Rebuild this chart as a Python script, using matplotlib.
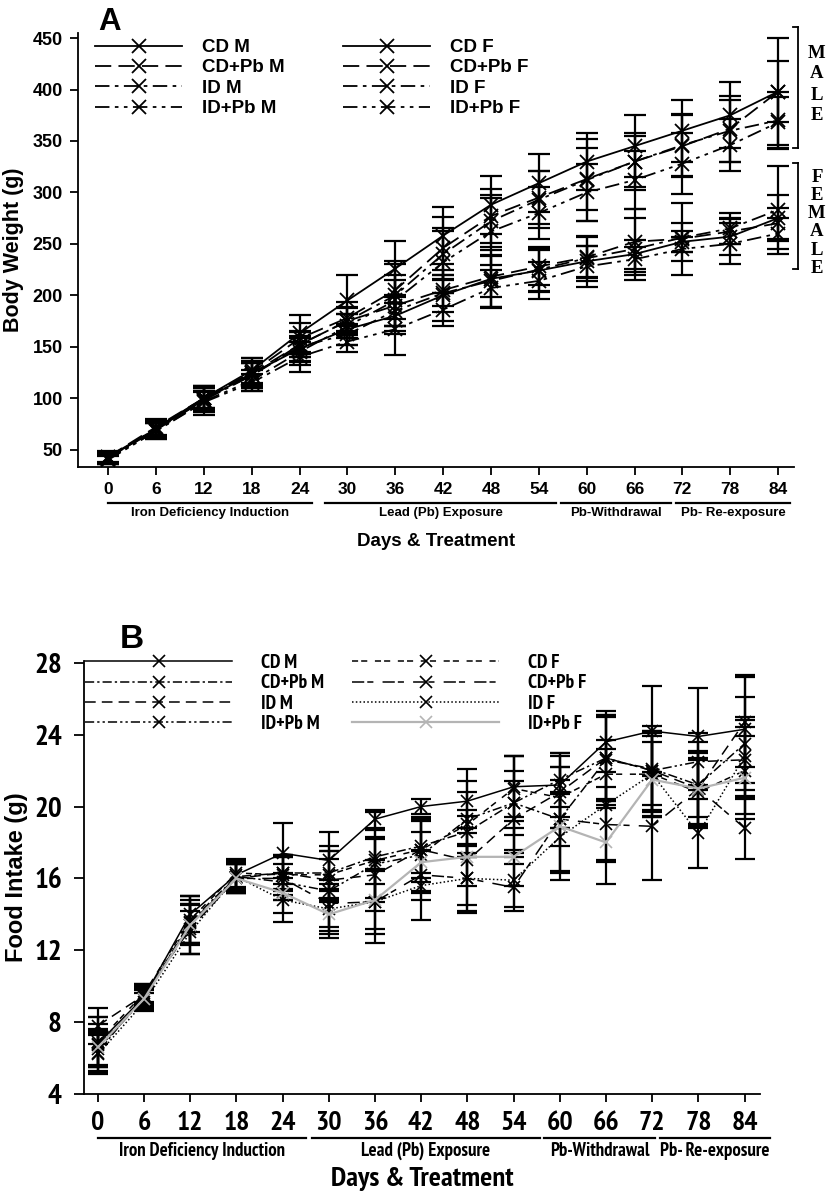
import matplotlib
matplotlib.use("Agg")
import matplotlib.pyplot as plt
from matplotlib.lines import Line2D
from matplotlib import font_manager as fm

days = [0, 6, 12, 18, 24, 30, 36, 42, 48, 54, 60, 66, 72, 78, 84]

# ---------------- Panel A : body weight (g) ----------------
a_labels = ["CD M", "CD+Pb M", "ID M", "ID+Pb M", "CD F", "CD+Pb F", "ID F", "ID+Pb F"]
bw_cd_m   = [43, 70, 100, 127, 163, 195, 226, 258, 288, 309, 330, 345, 360, 375, 398]
bw_cdpb_m = [42, 70, 100, 125, 158, 178, 205, 246, 277, 295, 313, 330, 345, 362, 398]
bw_id_m   = [42, 69, 98, 122, 152, 175, 200, 240, 272, 293, 312, 330, 346, 360, 370]
bw_idpb_m = [41, 68, 97, 117, 145, 170, 195, 232, 262, 280, 300, 312, 328, 346, 368]
bw_cd_f   = [42, 70, 98, 124, 148, 167, 180, 200, 216, 224, 233, 240, 252, 257, 275]
bw_cdpb_f = [43, 72, 100, 124, 152, 175, 190, 205, 218, 228, 237, 252, 255, 262, 270]
bw_id_f   = [41, 71, 100, 122, 150, 162, 185, 202, 214, 225, 236, 245, 256, 265, 283]
bw_idpb_f = [40, 68, 96, 115, 140, 155, 167, 186, 207, 214, 228, 235, 245, 250, 260]

sd_cd_m   = [6, 8, 10, 12, 18, 25, 27, 28, 28, 28, 28, 30, 30, 32, 52]
sd_cdpb_m = [5, 8, 12, 14, 15, 15, 28, 30, 26, 26, 30, 28, 30, 32, 30]
sd_id_m   = [5, 7, 14, 12, 12, 14, 30, 25, 25, 28, 40, 25, 30, 30, 28]
sd_idpb_m = [5, 8, 10, 10, 13, 12, 25, 30, 33, 25, 28, 28, 30, 25, 25]
sd_cd_f   = [5, 8, 12, 12, 12, 15, 18, 25, 28, 20, 15, 14, 10, 18, 22]
sd_cdpb_f = [5, 8, 10, 10, 12, 13, 25, 15, 20, 18, 20, 32, 35, 12, 15]
sd_id_f   = [5, 8, 12, 12, 15, 10, 15, 18, 25, 22, 22, 30, 14, 15, 43]
sd_idpb_f = [4, 8, 10, 8, 15, 10, 25, 16, 18, 18, 20, 12, 12, 20, 15]

# ---------------- Panel B : food intake (g) ----------------
b_labels = ["CD M", "CD+Pb M", "ID M", "ID+Pb M", "CD F", "CD+Pb F", "ID F", "ID+Pb F"]
fi_cd_m   = [6.8, 9.4, 14.0, 16.2, 17.4, 17.0, 19.3, 20.0, 20.3, 21.1, 21.2, 23.6, 24.2, 23.9, 24.3]
fi_cdpb_m = [6.5, 9.3, 13.6, 16.1, 16.3, 16.3, 17.2, 17.8, 18.6, 20.2, 19.3, 22.6, 22.1, 21.2, 23.5]
fi_id_m   = [7.8, 9.5, 13.2, 16.0, 16.3, 15.9, 16.2, 17.6, 17.0, 19.3, 20.8, 22.7, 22.0, 21.0, 24.7]
fi_idpb_m = [6.3, 9.5, 13.4, 16.1, 15.8, 15.3, 16.8, 17.3, 19.3, 20.2, 21.5, 22.7, 22.0, 22.5, 22.6]
fi_cd_f   = [6.9, 9.6, 13.7, 16.3, 16.2, 16.2, 17.0, 17.6, 19.0, 21.0, 20.5, 21.8, 21.8, 20.8, 22.0]
fi_cdpb_f = [6.7, 9.3, 13.5, 16.0, 16.0, 14.6, 14.7, 16.2, 16.0, 15.5, 19.3, 19.0, 18.9, 21.0, 18.8]
fi_id_f   = [6.2, 9.1, 13.0, 16.1, 14.8, 14.3, 14.7, 15.6, 16.0, 15.9, 18.3, 20.1, 21.8, 18.5, 22.8]
fi_idpb_f = [6.6, 9.3, 13.4, 16.0, 15.2, 14.0, 14.8, 16.9, 17.2, 17.2, 18.9, 18.0, 21.5, 21.0, 21.6]

fsd_cd_m   = [1.5, 0.6, 1.0, 0.8, 1.7, 1.6, 0.5, 0.4, 1.8, 1.7, 1.8, 1.7, 2.5, 2.7, 3.0]
fsd_cdpb_m = [1.0, 0.6, 1.2, 0.9, 1.0, 1.5, 2.5, 1.5, 1.2, 1.8, 1.5, 2.5, 2.0, 2.4, 2.6]
fsd_id_m   = [1.0, 0.5, 1.4, 0.8, 0.9, 1.2, 2.0, 1.8, 2.5, 2.1, 2.0, 2.4, 2.5, 1.6, 2.5]
fsd_idpb_m = [1.1, 0.6, 1.6, 0.7, 1.0, 2.2, 1.9, 2.0, 2.1, 2.6, 1.5, 2.3, 2.2, 1.6, 2.2]
fsd_cd_f   = [1.4, 0.5, 1.3, 0.8, 1.1, 1.3, 1.3, 1.6, 1.8, 1.8, 1.7, 1.9, 2.1, 1.9, 2.4]
fsd_cdpb_f = [1.2, 0.6, 1.1, 0.8, 1.2, 1.3, 2.3, 1.4, 1.9, 1.3, 2.9, 2.1, 3.0, 2.1, 1.7]
fsd_id_f   = [1.1, 0.5, 1.2, 0.8, 1.2, 1.4, 1.8, 1.9, 1.8, 1.5, 2.4, 3.1, 2.4, 1.9, 2.2]
fsd_idpb_f = [1.0, 0.5, 1.1, 0.8, 1.1, 1.3, 1.6, 1.7, 1.6, 1.6, 2.6, 2.3, 2.1, 2.0, 2.3]

group_labels = ["Iron Deficiency Induction", "Lead (Pb) Exposure", "Pb-Withdrawal", "Pb- Re-exposure"]

# ---------------- fonts ----------------
FA = ["Liberation Sans", "DejaVu Sans"]
FS = ["Liberation Serif", "DejaVu Serif"]


def _w700(f):
    return f.weight in ("bold", 700, "700")


def find_condensed():
    cands = []
    for f in fm.fontManager.ttflist:
        narrowish = ("Narrow" in f.name or "Condensed" in f.name or
                     f.stretch in ("condensed", "semi-condensed"))
        if not (narrowish and _w700(f)):
            continue
        if "Semi" in f.name or f.stretch == "semi-condensed":
            continue
        rank = 5
        if "Narrow" in f.name:
            rank = 0
        elif "Noto Sans" in f.name:
            rank = 1
        elif "Roboto" in f.name:
            rank = 2
        elif "Open Sans" in f.name:
            rank = 3
        cands.append((rank, f.name, f.stretch))
    if not cands:
        return None
    cands.sort()
    return cands[0][1], cands[0][2]


_c = find_condensed()
if _c is not None:
    FBK = dict(fontfamily=[_c[0], "Liberation Sans", "DejaVu Sans"], fontstretch=_c[1])
    cond = True
else:
    FBK = dict(fontfamily=FA)
    cond = False

# ---------------- figure ----------------
W, H = 830, 1192
fig = plt.figure(figsize=(W / 100, H / 100), dpi=100)


def ax_box(l, t, r, b):
    return [l / W, 1 - b / H, (r - l) / W, (b - t) / H]


def fig_xy(x, y):
    return (x / W, 1 - y / H)


# ======== Panel A ========
axA = fig.add_axes(ax_box(78, 33, 794, 467))
A_vals = [bw_cd_m, bw_cdpb_m, bw_id_m, bw_idpb_m, bw_cd_f, bw_cdpb_f, bw_id_f, bw_idpb_f]
A_sds = [sd_cd_m, sd_cdpb_m, sd_id_m, sd_idpb_m, sd_cd_f, sd_cdpb_f, sd_id_f, sd_idpb_f]
A_styles = ["-", (0, (9, 4)), (0, (8, 3, 2, 3)), (0, (8, 3, 2, 3, 2, 3))] * 2
handlesA = []
for v, s, ls, lab in zip(A_vals, A_sds, A_styles, a_labels):
    axA.errorbar(days, v, yerr=s, fmt="none", ecolor="black", elinewidth=1.6,
                 capsize=8, capthick=1.6, zorder=2)
    axA.plot(days, v, color="black", linestyle=ls, linewidth=1.3,
             marker="x", markersize=10, markeredgewidth=1.3, zorder=3)
    handlesA.append(Line2D([], [], color="black", linestyle=ls, linewidth=1.3,
                           marker="x", markersize=10, markeredgewidth=1.3, label=lab))
axA.set_xlim(-3.8, 86)
axA.set_ylim(33, 455)
axA.set_xticks(days)
axA.set_yticks([50, 100, 150, 200, 250, 300, 350, 400, 450])
for sp in ["top", "right"]:
    axA.spines[sp].set_visible(False)
for sp in ["left", "bottom"]:
    axA.spines[sp].set_linewidth(1.3)
axA.tick_params(axis="both", length=6, width=1.3, pad=5)
for t in axA.get_xticklabels():
    t.set_fontfamily(FA); t.set_fontweight("bold"); t.set_fontsize(12.5)
for t in axA.get_yticklabels():
    t.set_fontfamily(FA); t.set_fontweight("bold"); t.set_fontsize(13)
axA.set_ylabel("Body Weight (g)", fontfamily=FA, fontweight="bold", fontsize=15.5, labelpad=6)
axA.set_xlabel("Days & Treatment", fontfamily=FA, fontweight="bold", fontsize=13.5, labelpad=26)

legkwA = dict(loc="upper left", bbox_transform=fig.transFigure, frameon=False,
              borderpad=0, borderaxespad=0, handlelength=4.64, handletextpad=1.07,
              labelspacing=0.17, prop={"family": FA, "weight": "bold", "size": 13.5})
fig.legend(handles=handlesA[:4], bbox_to_anchor=fig_xy(95, 39), **legkwA)
fig.legend(handles=handlesA[4:], bbox_to_anchor=fig_xy(343, 39), **legkwA)
fig.text(*fig_xy(110, 22.5), "A", fontfamily=FA, fontweight="bold",
         fontsize=22.5, va="center", ha="center")

# group lines A
trA = axA.get_xaxis_transform()
spansA = [(0, 25.6), (27.2, 56.2), (56.8, 70.6), (71.2, 85.5)]
for (x0, x1), g in zip(spansA, group_labels):
    axA.plot([x0, x1], [-0.083, -0.083], transform=trA, color="black", lw=1.6, clip_on=False)
    axA.text((x0 + x1) / 2, -0.092, g, transform=trA, ha="center", va="top",
             fontfamily=FA, fontweight="bold", fontsize=9.5)


# MALE / FEMALE brackets
def bracket(y0, y1, x=798):
    fig.add_artist(Line2D([x / W, x / W], [1 - y0 / H, 1 - y1 / H], color="black", lw=1.3))
    for yy in (y0, y1):
        fig.add_artist(Line2D([(x - 5) / W, x / W], [1 - yy / H, 1 - yy / H], color="black", lw=1.3))


bracket(27, 148)
bracket(163, 269)
for i, ch in enumerate("MALE"):
    fig.text(*fig_xy(817, 53 + i * 21), ch, ha="center", va="center",
             fontfamily=FS, fontweight="bold", fontsize=13.5)
for i, ch in enumerate("FEMALE"):
    fig.text(*fig_xy(817, 177 + i * 18.3), ch, ha="center", va="center",
             fontfamily=FS, fontweight="bold", fontsize=13.5)

# ======== Panel B ========
axB = fig.add_axes(ax_box(84, 661, 760, 1094))
B_vals = [fi_cd_m, fi_cdpb_m, fi_id_m, fi_idpb_m, fi_cd_f, fi_cdpb_f, fi_id_f, fi_idpb_f]
B_sds = [fsd_cd_m, fsd_cdpb_m, fsd_id_m, fsd_idpb_m, fsd_cd_f, fsd_cdpb_f, fsd_id_f, fsd_idpb_f]
B_styles = ["-", (0, (6, 2, 1.5, 2)), (0, (7, 4)), (0, (6, 2, 1.5, 2, 1.5, 2)),
            (0, (4, 2, 4, 5)), (0, (8, 2, 4, 6)), (0, (1, 1.5)), "-"]
B_colors = ["black"] * 7 + ["#b4b4b4"]
handlesB = []
for v, s, ls, c, lab in zip(B_vals, B_sds, B_styles, B_colors, b_labels):
    axB.errorbar(days, v, yerr=s, fmt="none", ecolor="black", elinewidth=1.6,
                 capsize=7, capthick=1.6, zorder=2)
    lw = 1.6 if c != "black" else 1.1
    axB.plot(days, v, color=c, linestyle=ls, linewidth=lw,
             marker="x", markersize=9, markeredgewidth=1.2, zorder=3)
    handlesB.append(Line2D([], [], color=c, linestyle=ls, linewidth=lw,
                           marker="x", markersize=9, markeredgewidth=1.2, label=lab))
axB.set_xlim(-1.8, 86)
axB.set_ylim(4, 28.1)
axB.set_xticks(days)
axB.set_yticks([4, 8, 12, 16, 20, 24, 28])
for sp in ["top", "right"]:
    axB.spines[sp].set_visible(False)
for sp in ["left", "bottom"]:
    axB.spines[sp].set_linewidth(1.3)
axB.tick_params(axis="x", length=6, width=1.3, pad=6)
axB.tick_params(axis="y", length=7, width=1.3, pad=9)
for t in axB.get_xticklabels():
    t.set(**FBK); t.set_fontweight("bold"); t.set_fontsize(20 if cond else 16)
for t in axB.get_yticklabels():
    t.set(**FBK); t.set_fontweight("bold"); t.set_fontsize(21 if cond else 17)
axB.set_ylabel("Food Intake (g)", fontfamily=FA, fontweight="bold", fontsize=17, labelpad=4)
axB.set_xlabel("Days & Treatment", fontweight="bold", fontsize=20.5 if cond else 18,
               labelpad=23, **FBK)

bsize = 14 if cond else 12
legkwB = dict(loc="upper left", bbox_transform=fig.transFigure, frameon=False,
              borderpad=0, borderaxespad=0, handlelength=147 / (bsize * 100 / 72),
              handletextpad=29 / (bsize * 100 / 72), labelspacing=0.12,
              prop=fm.FontProperties(family=FBK["fontfamily"], weight="bold", size=bsize,
                                     stretch=FBK.get("fontstretch", "normal")))
fig.legend(handles=handlesB[:4], bbox_to_anchor=fig_xy(85, 654), **legkwB)
fig.legend(handles=handlesB[4:], bbox_to_anchor=fig_xy(352, 654), **legkwB)
fig.text(*fig_xy(132, 640), "B", fontfamily=FA, fontweight="bold",
         fontsize=24, va="center", ha="center")

trB = axB.get_xaxis_transform()
spansB = [(0, 27.0), (27.8, 57.4), (58.0, 72.3), (73.0, 87.3)]
for (x0, x1), g in zip(spansB, group_labels):
    axB.plot([x0, x1], [-0.101, -0.101], transform=trB, color="black", lw=1.6, clip_on=False)
    axB.text((x0 + x1) / 2, -0.110, g, transform=trB, ha="center", va="top",
             fontweight="bold", fontsize=13.5 if cond else 10.5, **FBK)

fig.savefig("out.png", dpi=100)
